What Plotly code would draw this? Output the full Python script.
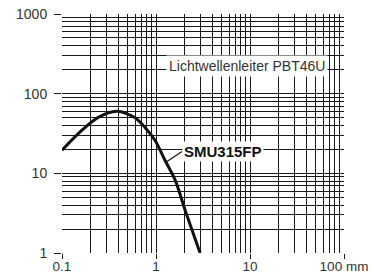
import math
import plotly.graph_objects as go

# Data
distance_mm = [0.1, 0.16, 0.24, 0.385, 0.6, 0.76, 0.975, 1.25, 1.6, 2.04, 2.48, 2.86, 2.95]
excess_gain = [19.5, 34, 50, 60, 50, 38, 26, 14.5, 8.2, 3.45, 1.78, 1.1, 1.0]

x_tick_vals = [0.1, 1, 10, 100]
x_tick_text = ["0.1", "1", "10", "100 mm"]
y_tick_vals = [1, 10, 100, 1000]
y_tick_text = ["1", "10", "100", "1000"]

series_name = "SMU315FP"
title_text = "Lichtwellenleiter PBT46U"

x_minor = [m * 10 ** e for e in (-1, 0, 1) for m in range(2, 10)]
y_minor = [m * 10 ** e for e in (0, 1, 2) for m in range(2, 10)]

FONT = "Liberation Sans, Arial, sans-serif"
GRID = "#1a1a1a"

fig = go.Figure()
fig.add_trace(go.Scatter(
    x=distance_mm, y=excess_gain, mode="lines",
    line=dict(color="#111111", width=3, shape="spline", smoothing=0.8),
    showlegend=False, hoverinfo="skip",
))

axis_common = dict(
    type="log", automargin=False,
    showgrid=True, gridcolor=GRID, gridwidth=1,
    zeroline=False, showline=False,
    ticks="outside", tickcolor=GRID, tickwidth=1,
)

fig.update_xaxes(
    **axis_common,
    range=[-1, 2],
    tickmode="array", tickvals=x_tick_vals, ticktext=x_tick_text,
    ticklen=5, ticklabelstandoff=-4,
    tickfont=dict(family=FONT, size=13.5, color="#333333"),
    minor=dict(tickmode="array", tickvals=x_minor, showgrid=True,
               gridcolor=GRID, gridwidth=1, ticks=""),
)
fig.update_yaxes(
    **axis_common,
    range=[0, 3],
    tickmode="array", tickvals=y_tick_vals, ticktext=y_tick_text,
    ticklen=7, ticklabelstandoff=4,
    tickfont=dict(family=FONT, size=14, color="#333333"),
    minor=dict(tickmode="array", tickvals=y_minor, showgrid=True,
               gridcolor=GRID, gridwidth=1, ticks=""),
)

fig.add_annotation(
    x=math.log10(1.31), y=math.log10(14.1), xref="x", yref="y",
    text="<b>" + series_name + "</b>",
    showarrow=True, arrowhead=0, arrowwidth=1.2, arrowcolor="#111111",
    ax=15, ay=-10, xanchor="left", yanchor="middle",
    bgcolor="white", borderpad=1,
    font=dict(family=FONT, size=15, color="#111111"),
)
fig.add_annotation(
    x=0.655, y=0.782, xref="paper", yref="paper",
    xanchor="center", yanchor="middle",
    text=title_text, showarrow=False,
    bgcolor="white", borderpad=2,
    font=dict(family=FONT, size=14, color="#333333"),
)

fig.update_layout(
    width=387, height=273,
    margin=dict(l=62, r=43, t=14, b=20, autoexpand=False),
    paper_bgcolor="white", plot_bgcolor="white",
)

fig.write_html("out.html", config={"displayModeBar": False},
               post_script="document.body.style.margin='0';")
